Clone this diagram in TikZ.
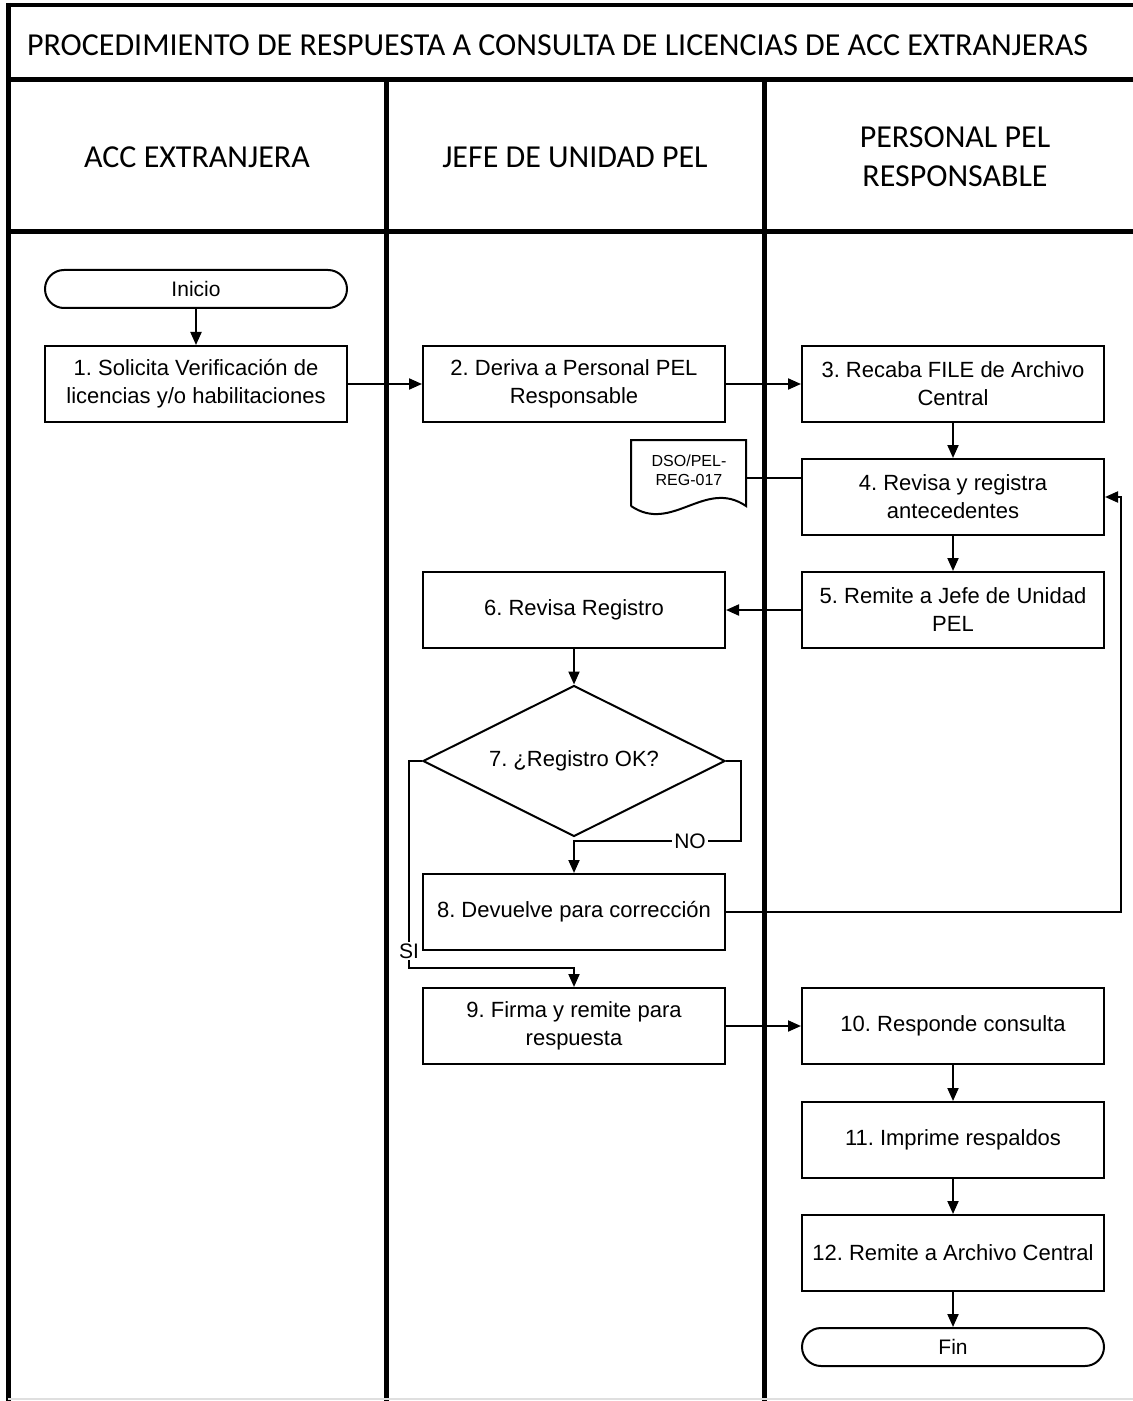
\documentclass[tikz,border=0pt]{standalone}
\usepackage{fontspec}
\setmainfont{Liberation Sans}
\newfontfamily\headfont{Carlito}
\usetikzlibrary{shapes.geometric,arrows.meta}
\frenchspacing

\begin{document}
\begin{tikzpicture}[x=0.5pt, y=-0.5pt,
  box/.style={rectangle, draw, line width=1pt, minimum width=151pt, minimum height=38pt, align=center, font=\fontsize{11}{14}\selectfont, inner sep=2pt},
  term/.style={rectangle, rounded corners=9.5pt, draw, line width=1pt, minimum width=151pt, minimum height=19pt, font=\fontsize{10.5}{13}\selectfont},
  decision/.style={diamond, aspect=2, draw, line width=1pt, minimum width=151pt, minimum height=75.5pt, inner sep=0pt, font=\fontsize{11}{14}\selectfont},
  lbl/.style={fill=white, inner sep=1pt, font=\fontsize{10.5}{13}\selectfont},
  head/.style={align=center, font=\headfont\fontsize{16}{19.5}\selectfont},
  arr/.style={line width=1pt, -{Triangle[length=6.5pt,width=5.5pt]}},
  lane/.style={line width=2.5pt}]

\useasboundingbox (0,0) rectangle (1133,1401);

% lanes
\draw [lane, line width=2pt] (8,5) -- (1133,5);
\draw [lane] (8,80) -- (1133,80);
\draw [lane] (8,232) -- (1133,232);
\draw [lane] (8,3) -- (8,1401);
\draw [lane] (386,80) -- (386,1401);
\draw [lane] (764,80) -- (764,1401);
\draw [gray!25, line width=0.6pt] (8,1399) -- (1133,1399);

\node [head, anchor=west] (t0) at (20,45) {PROCEDIMIENTO DE RESPUESTA A CONSULTA DE LICENCIAS DE ACC EXTRANJERAS};
\node [head] (h1) at (197,157) {ACC EXTRANJERA};
\node [head] (h2) at (575,157) {JEFE DE UNIDAD PEL};
\node [head] (h3) at (955,157) {PERSONAL PEL\\RESPONSABLE};

% steps
\node [term] (v0) at (196,289) {Inicio};
\node [box] (v1) at (196,384) {1. Solicita Verificación de\\licencias y/o habilitaciones};
\node [box] (v2) at (574,384) {2. Deriva a Personal PEL\\Responsable};
\node [box] (v3) at (953,384) {3. Recaba FILE de Archivo\\Central};
\node [box] (v4) at (953,497) {4. Revisa y registra\\antecedentes};
\node [box] (v5) at (953,610) {5. Remite a Jefe de Unidad\\PEL};
\node [box] (v6) at (574,610) {6. Revisa Registro};
\node [decision] (v7) at (574,761) {7. ¿Registro OK?};
\node [box] (v8) at (574,912) {8. Devuelve para corrección};
\node [box] (v9) at (574,1026) {9. Firma y remite para\\respuesta};
\node [box] (v10) at (953,1026) {10. Responde consulta};
\node [box] (v11) at (953,1140) {11. Imprime respaldos};
\node [box] (v12) at (953,1253) {12. Remite a Archivo Central};
\node [term] (v13) at (953,1347) {Fin};

% document
\draw [line width=1pt] (631,506) -- (631,440) -- (746,440) -- (746,506)
  .. controls (705,478) and (672,534) .. (631,506);
\node [align=center, font=\fontsize{8}{9.5}\selectfont] (d1) at (689,470) {DSO/PEL-\\REG-017};
\coordinate (d1e) at (746,478);
\draw [line width=1pt] (d1e) -- (v4.west |- d1e);

% flow
\draw [arr] (v0) -- (v1);
\draw [arr] (v1) -- (v2);
\draw [arr] (v2) -- (v3);
\draw [arr] (v3) -- (v4);
\draw [arr] (v4) -- (v5);
\draw [arr] (v5) -- (v6);
\draw [arr] (v6) -- (v7);

\coordinate (c1) at (741,841);
\coordinate (c2) at (409,968);
\coordinate (c3) at (1121,912);
\draw [arr] (v7.east) -| (c1) -| (v8.north);
\draw [arr] (v7.west) -| (c2) -| (v9.north);
\draw [arr] (v8.east) -- (c3) |- (v4.east);
\node [lbl] (no) at (690,841) {NO};
\node [lbl] (si) at (409,951) {SI};

\draw [arr] (v9) -- (v10);
\draw [arr] (v10) -- (v11);
\draw [arr] (v11) -- (v12);
\draw [arr] (v12) -- (v13);
\end{tikzpicture}
\end{document}
